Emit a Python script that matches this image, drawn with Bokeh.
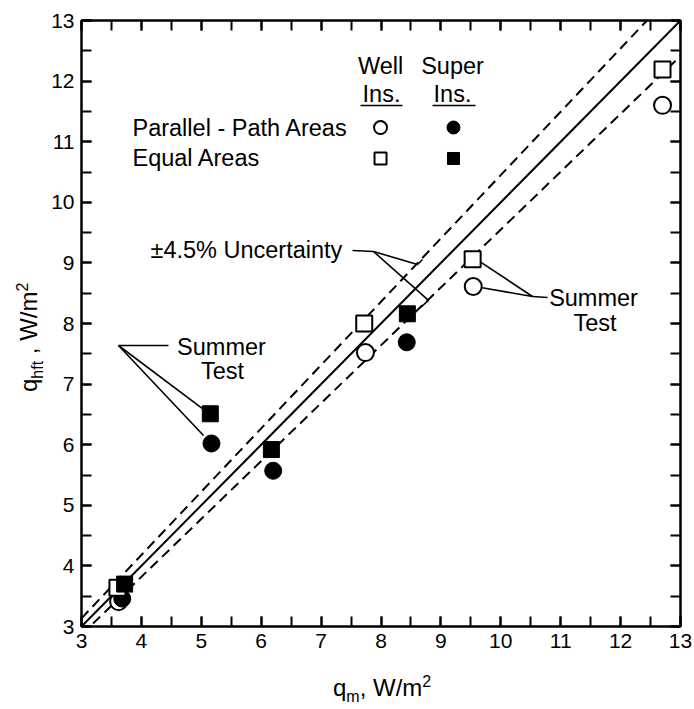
import math
from bokeh.plotting import figure
from bokeh.models import Range1d, LinearAxis, SingleIntervalTicker, Label, Div
from bokeh.layouts import column
from bokeh.embed import file_html
from bokeh.resources import INLINE

# ---------------- data ----------------
x_lim = [3, 13]
y_lim = [3, 13]
uncertainty = 0.045

# Parallel-path areas
well_par_x = [3.62, 7.74, 9.54, 12.70]
well_par_y = [3.41, 7.52, 8.61, 11.60]
sup_par_x = [3.68, 5.17, 6.20, 8.43]
sup_par_y = [3.46, 6.02, 5.57, 7.69]
# Equal areas
well_eq_x = [3.60, 7.72, 9.53, 12.70]
well_eq_y = [3.64, 8.00, 9.06, 12.19]
sup_eq_x = [3.72, 5.15, 6.17, 8.44]
sup_eq_y = [3.70, 6.51, 5.92, 8.16]

FONT = "Liberation Sans"
TXT = 23.5

p = figure(width=694, height=709, x_range=Range1d(*x_lim), y_range=Range1d(*y_lim),
           output_backend="svg", toolbar_location=None,
           min_border_left=81, min_border_right=14, min_border_top=20, min_border_bottom=83,
           background_fill_color="white", border_fill_color="white")
p.grid.visible = False
p.outline_line_color = "black"
p.outline_line_width = 2

def style_axis(ax, labels=True):
    ax.ticker = SingleIntervalTicker(interval=1, num_minor_ticks=2)
    ax.major_tick_in = 10
    ax.major_tick_out = 0
    ax.minor_tick_in = 10
    ax.minor_tick_out = 0
    ax.major_tick_line_width = 2
    ax.minor_tick_line_width = 2
    ax.major_tick_line_color = "black"
    ax.minor_tick_line_color = "black"
    ax.axis_line_width = 2
    ax.axis_line_color = "black"
    if labels:
        ax.major_label_text_font = FONT
        ax.major_label_text_font_size = "21px"
        ax.major_label_text_color = "black"
        ax.major_label_standoff = 7
    else:
        ax.major_label_text_color = None
        ax.major_label_text_font_size = "1px"
        ax.major_label_standoff = 0

style_axis(p.xaxis[0])
style_axis(p.yaxis[0])
for side in ["above", "right"]:
    ax = LinearAxis()
    style_axis(ax, labels=False)
    p.add_layout(ax, side)

# ---------------- reference lines ----------------
lx = list(x_lim)
ly = [v for v in lx]
ly_up = [v * (1 + uncertainty) for v in lx]
ly_lo = [v * (1 - uncertainty) for v in lx]
p.line(lx, ly, line_color="black", line_width=2)
p.line(lx, ly_up, line_color="black", line_width=2, line_dash="10 6")
p.line(lx, ly_lo, line_color="black", line_width=2, line_dash="10 6")

# ---------------- leader lines (annotation positions) ----------------
LW = 1.6
# left "Summer Test"
p.line([4.452, 3.618], [7.637, 7.637], line_color="black", line_width=LW)
p.line([3.618, 5.02], [7.637, 6.597], line_color="black", line_width=LW)
p.line([3.618, 5.037], [7.637, 6.152], line_color="black", line_width=LW)
# right "Summer Test"
p.line([10.78, 10.529], [8.429, 8.446], line_color="black", line_width=LW)
p.line([10.529, 9.67], [8.446, 9.01], line_color="black", line_width=LW)
p.line([10.529, 9.69], [8.446, 8.59], line_color="black", line_width=LW)
# uncertainty
p.line([7.524, 7.875], [9.205, 9.188], line_color="black", line_width=LW)
p.line([7.875, 8.609, 8.693], [9.188, 8.974, 9.056], line_color="black", line_width=LW)
p.line([7.875, 8.793, 8.659], [9.188, 8.380, 8.264], line_color="black", line_width=LW)
# legend underlines
p.line([7.658, 8.359], [11.597, 11.597], line_color="black", line_width=LW)
p.line([8.860, 9.578], [11.597, 11.597], line_color="black", line_width=LW)

# ---------------- data markers ----------------
p.scatter(well_par_x, well_par_y, marker="circle", size=17, fill_color="white",
          line_color="black", line_width=2)
p.scatter(sup_par_x, sup_par_y, marker="circle", size=17, fill_color="black",
          line_color="black", line_width=1)
p.scatter(well_eq_x, well_eq_y, marker="square", size=16, fill_color="white",
          line_color="black", line_width=2)
p.scatter(sup_eq_x, sup_eq_y, marker="square", size=16, fill_color="black",
          line_color="black", line_width=1)

# legend markers
p.scatter([7.992], [11.234], marker="circle", size=13, fill_color="white", line_color="black", line_width=2)
p.scatter([9.210], [11.234], marker="circle", size=13, fill_color="black", line_color="black")
p.scatter([7.992], [10.723], marker="square", size=12, fill_color="white", line_color="black", line_width=2)
p.scatter([9.210], [10.723], marker="square", size=12, fill_color="black", line_color="black")

def lab(x, y, text, size=TXT, align="left", baseline="middle"):
    p.add_layout(Label(x=x, y=y, text=text, text_font=FONT, text_font_size=f"{size}px",
                       text_align=align, text_baseline=baseline, text_color="black"))

# legend texts
lab(7.992, 12.257, "Well", align="center")
lab(8.008, 11.795, "Ins.", align="center")
lab(9.194, 12.257, "Super", align="center")
lab(9.194, 11.795, "Ins.", align="center")
lab(3.851, 11.234, "Parallel - Path Areas")
lab(3.851, 10.739, "Equal Areas")

# annotations
lab(4.152, 9.205, "\u00b14.5% Uncertainty")
lab(5.337, 7.604, "Summer", align="center")
lab(5.354, 7.224, "Test", align="center")
lab(11.548, 8.413, "Summer", align="center")
lab(11.573, 8.016, "Test", align="center")

# ---------------- axis titles (HTML with sub/superscripts) ----------------
SUB = "position:relative; font-size:16px; top:6px;"
SUP = "position:relative; font-size:16px; top:-9px;"
base_style = {"position": "absolute", "font-family": FONT, "font-size": "24px",
              "line-height": "24px", "color": "black", "white-space": "nowrap",
              "overflow": "visible"}

xtitle = Div(text=f'q<span style="{SUB}">m</span>, W/m<span style="{SUP}">2</span>',
             width=160, height=34, margin=0,
             styles=dict(base_style, left="333px", top="676px"))
ytitle = Div(text=f'q<span style="{SUB}">hft</span> , W/m<span style="{SUP}">2</span>',
             width=160, height=34, margin=0,
             styles=dict(base_style, left="17px", top="392px",
                         transform="rotate(-90deg)", **{"transform-origin": "0 0"}))

root = column(p, xtitle, ytitle, spacing=0)
open("out.html", "w").write(file_html(root, INLINE))
